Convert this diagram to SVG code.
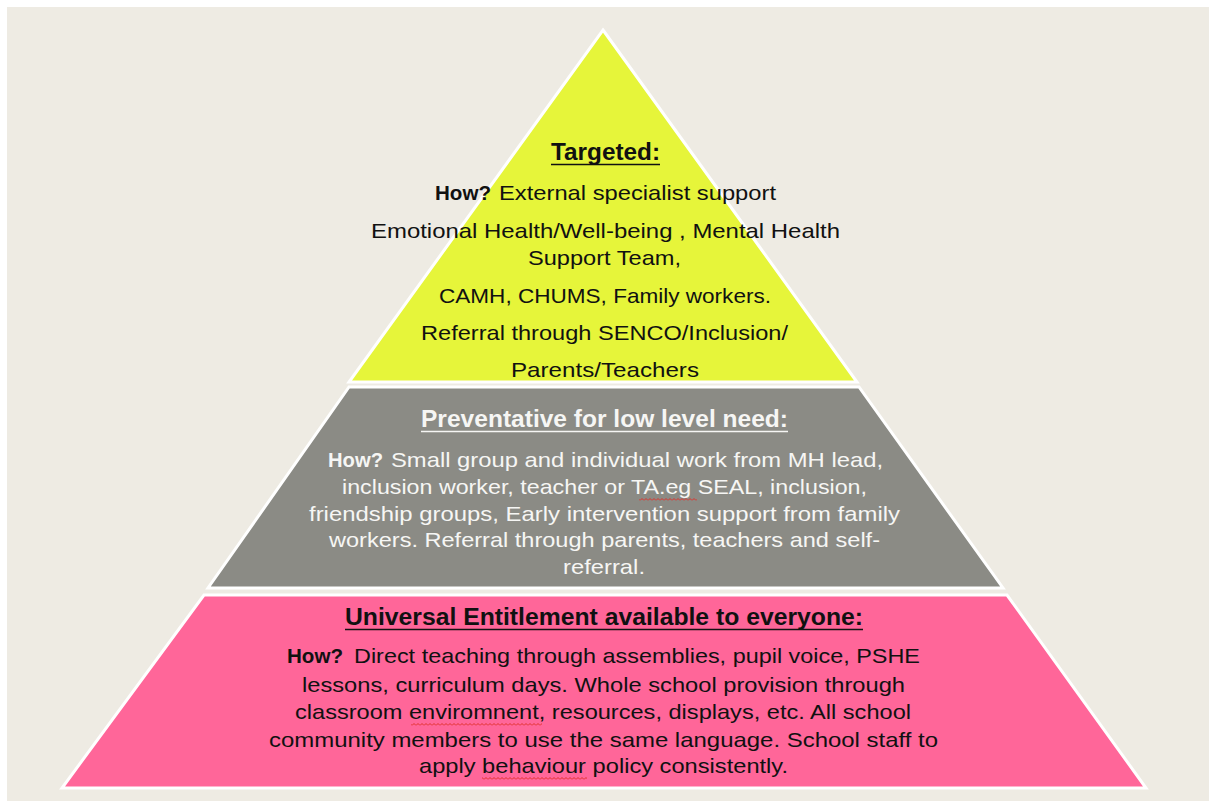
<svg xmlns="http://www.w3.org/2000/svg" width="1209" height="801" viewBox="0 0 1209 801">
  <defs>
    <!-- red spell-check squiggle -->
    <pattern id="squiggle" width="4" height="3" patternUnits="userSpaceOnUse">
      <path d="M0,2.5 L2,0.5 L4,2.5" fill="none" stroke="#E0302A" stroke-width="1"/>
    </pattern>
    <style>
      .tier { stroke: #FFFFFF; stroke-width: 3; stroke-linejoin: miter; }
      .t { font-family: "Liberation Sans", Arial, sans-serif; }
      .title { font-weight: bold; }
      .dark { fill: #111111; }
      .light { fill: #F6F6F4; }
      .ul-dark { stroke: #111111; stroke-width: 1.6; }
      .ul-light { stroke: #F6F6F4; stroke-width: 1.6; }
    </style>
  </defs>

  <!-- page -->
  <rect x="0" y="0" width="1209" height="801" fill="#FFFFFF"/>
  <rect x="7" y="7" width="1202" height="794" fill="#EEEBE3"/>

  <!-- top tier -->
  <g id="targeted">
    <polygon class="tier" points="603,30 857,382 349,382" fill="#E6F53A"/>
    <text class="t title dark" x="551" y="160" font-size="24" textLength="109" lengthAdjust="spacingAndGlyphs">Targeted:</text>
    <line class="ul-dark" x1="551" y1="164.5" x2="660" y2="164.5"/>
    <text class="t title dark" x="435" y="200" font-size="21" textLength="56" lengthAdjust="spacingAndGlyphs">How?</text>
    <text class="t dark" x="499" y="200" font-size="21" textLength="277" lengthAdjust="spacingAndGlyphs">External specialist support</text>
    <text class="t dark" x="371" y="238" font-size="21" textLength="469" lengthAdjust="spacingAndGlyphs">Emotional Health/Well-being , Mental Health</text>
    <text class="t dark" x="528" y="265" font-size="21" textLength="153" lengthAdjust="spacingAndGlyphs">Support Team,</text>
    <text class="t dark" x="439" y="303" font-size="21" textLength="332" lengthAdjust="spacingAndGlyphs">CAMH, CHUMS, Family workers.</text>
    <text class="t dark" x="421" y="340" font-size="21" textLength="367" lengthAdjust="spacingAndGlyphs">Referral through SENCO/Inclusion/</text>
    <text class="t dark" x="511" y="377" font-size="21" textLength="188" lengthAdjust="spacingAndGlyphs">Parents/Teachers</text>
  </g>

  <!-- middle tier -->
  <g id="preventative">
    <polygon class="tier" points="349,387 859,387 1003,588 208,588" fill="#8B8B85"/>
    <text class="t title light" x="421" y="427" font-size="24" textLength="367" lengthAdjust="spacingAndGlyphs">Preventative for low level need:</text>
    <line class="ul-light" x1="421" y1="431.5" x2="788" y2="431.5"/>
    <text class="t title light" x="328" y="467" font-size="21" textLength="55" lengthAdjust="spacingAndGlyphs">How?</text>
    <text class="t light" x="391" y="467" font-size="21" textLength="492" lengthAdjust="spacingAndGlyphs">Small group and individual work from MH lead,</text>
    <text class="t light" x="342" y="494" font-size="21" textLength="525" lengthAdjust="spacingAndGlyphs">inclusion worker, teacher or TA.eg SEAL, inclusion,</text>
    <rect x="639" y="498" width="58" height="3" fill="url(#squiggle)"/>
    <text class="t light" x="309" y="521" font-size="21" textLength="591" lengthAdjust="spacingAndGlyphs">friendship groups, Early intervention support from family</text>
    <text class="t light" x="329" y="547" font-size="21" textLength="551" lengthAdjust="spacingAndGlyphs">workers. Referral through parents, teachers and self-</text>
    <text class="t light" x="563" y="574" font-size="21" textLength="82" lengthAdjust="spacingAndGlyphs">referral.</text>
  </g>

  <!-- base tier -->
  <g id="universal">
    <polygon class="tier" points="204,595 1007,595 1146,788 62,788" fill="#FF6699"/>
    <text class="t title dark" x="345" y="625" font-size="23" textLength="518" lengthAdjust="spacingAndGlyphs">Universal Entitlement available to everyone:</text>
    <line class="ul-dark" x1="345" y1="629.5" x2="863" y2="629.5"/>
    <text class="t title dark" x="287" y="663" font-size="21" textLength="56" lengthAdjust="spacingAndGlyphs">How?</text>
    <text class="t dark" x="354" y="663" font-size="21" textLength="566" lengthAdjust="spacingAndGlyphs">Direct teaching through assemblies, pupil voice, PSHE</text>
    <text class="t dark" x="302" y="692" font-size="21" textLength="603" lengthAdjust="spacingAndGlyphs">lessons, curriculum days. Whole school provision through</text>
    <text class="t dark" x="295" y="719" font-size="21" textLength="616" lengthAdjust="spacingAndGlyphs">classroom enviromnent, resources, displays, etc. All school</text>
    <rect x="411" y="723" width="131" height="3" fill="url(#squiggle)"/>
    <text class="t dark" x="269" y="747" font-size="21" textLength="669" lengthAdjust="spacingAndGlyphs">community members to use the same language. School staff to</text>
    <text class="t dark" x="419" y="773" font-size="21" textLength="369" lengthAdjust="spacingAndGlyphs">apply behaviour policy consistently.</text>
    <rect x="482" y="777" width="105" height="3" fill="url(#squiggle)"/>
  </g>
</svg>
